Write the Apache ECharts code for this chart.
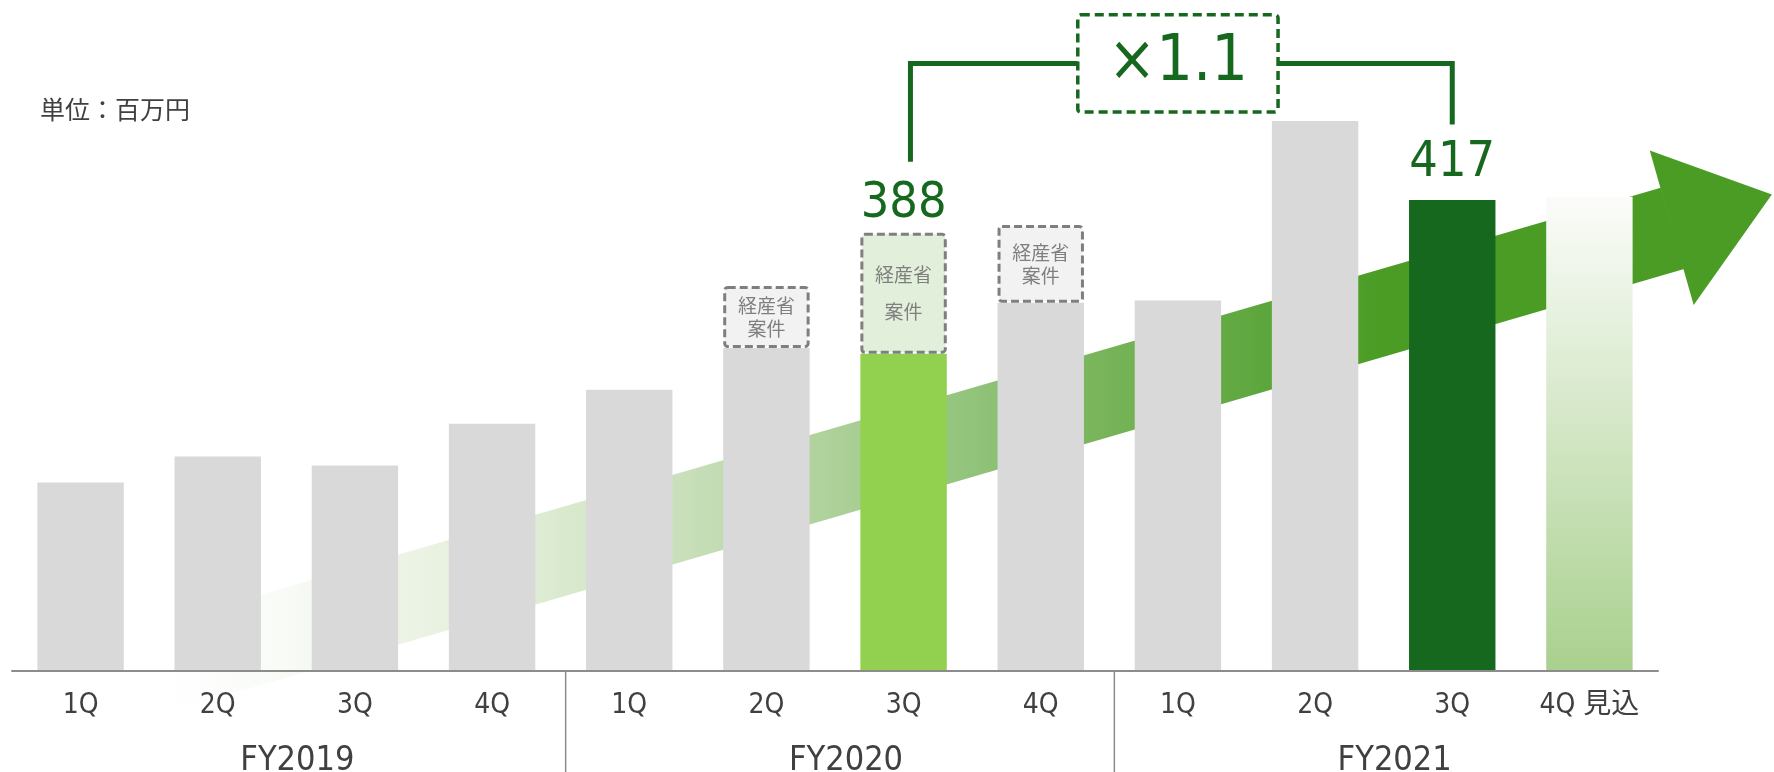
<!DOCTYPE html>
<html>
<head>
<meta charset="utf-8">
<script src="https://cdn.jsdelivr.net/npm/echarts@6/dist/echarts.min.js"></script>
<style>
  html, body { margin: 0; padding: 0; background: #ffffff; }
  #chart { width: 1774px; height: 772px; }
</style>
</head>
<body>
<div id="chart"></div>
<script>
// Quarterly sales, unit: million yen
const quarters = ['1Q', '2Q', '3Q', '4Q', '1Q', '2Q', '3Q', '4Q', '1Q', '2Q', '3Q', '4Q 見込'];
const fiscalYears = ['FY2019', 'FY2020', 'FY2021'];
const baseSales = [167, 190, 182, 219, 249, 286, 281, 326, 328, 487, 417, 420];
const metiSales = [null, null, null, null, null, 55, 107, 69, null, null, null, null];
const compareFrom = 6;   // FY2020 3Q
const compareTo = 10;    // FY2021 3Q
const forecastIndex = 11;
const unitLabel = '単位：百万円';
const metiLabel = '経産省\n案件';

const totals = baseSales.map((v, i) => v + (metiSales[i] || 0));
const growth = '×' + (totals[compareTo] / totals[compareFrom]).toFixed(1);

const LATIN = "'DejaVu Sans Condensed', 'Noto Sans CJK JP', sans-serif";
const CJK = "'Noto Sans CJK JP', sans-serif";
const TEXT = '#404040';
const DARK_GREEN = '#17681f';

const chart = echarts.init(document.getElementById('chart'), null, { renderer: 'canvas' });

// fractional category position -> pixel, using the category axis scale
function makePx(api) {
  return function (ix, v) {
    const a = api.coord([0, v]);
    const b = api.coord([1, v]);
    return [a[0] + (b[0] - a[0]) * ix, a[1]];
  };
}

const baseData = baseSales.map((v, i) => {
  let color = '#d9d9d9';
  if (i === compareFrom) color = '#92d050';
  if (i === compareTo) color = DARK_GREEN;
  if (i === forecastIndex) {
    color = new echarts.graphic.LinearGradient(0, 0, 0, 1, [
      { offset: 0, color: '#fbfcfa' },
      { offset: 1, color: '#a9d08e' }
    ]);
  }
  return { value: v, itemStyle: { color: color } };
});

const metiData = metiSales.map((v, i) => {
  if (v == null) return null;
  const hl = i === compareFrom;
  return {
    value: v,
    itemStyle: { color: hl ? '#e2efda' : '#f2f2f2' },
    label: { lineHeight: hl ? 37 : 23 }
  };
});

const option = {
  animation: false,
  backgroundColor: '#ffffff',
  title: {
    text: unitLabel,
    left: 35,
    top: 92,
    textStyle: { fontFamily: CJK, fontSize: 25, fontWeight: 'normal', color: TEXT }
  },
  grid: { left: 12, right: 116, top: 16, bottom: 101, containLabel: false, outerBoundsMode: 'none' },
  xAxis: [
    {
      type: 'category',
      data: quarters,
      z: 5,
      axisLine: { lineStyle: { color: '#8c8c8c', width: 2 } },
      axisTick: { show: false },
      axisLabel: { margin: 21, fontSize: 28, color: TEXT, fontFamily: LATIN }
    },
    {
      type: 'category',
      data: fiscalYears,
      position: 'bottom',
      offset: 0,
      z: 5,
      axisLine: { show: false },
      axisTick: { show: false },
      axisLabel: { margin: 73, fontSize: 34, color: TEXT, fontFamily: LATIN, padding: [0, 0, 0, 22] }
    }
  ],
  yAxis: {
    type: 'value',
    min: 0,
    max: 580,
    show: false,
    splitLine: { show: false }
  },
  series: [
    {
      // growth arrow behind the bars
      type: 'custom',
      name: 'trend',
      z: 1,
      silent: true,
      clip: false,
      data: [[0, 0]],
      renderItem: function (params, api) {
        const px = makePx(api);
        const band = [[0.25, 30], [11.52, 428], [11.69, 356], [0.25, -50]].map(p => px(p[0], p[1]));
        const head = [[11.44, 461], [12.33, 422], [11.76, 324]].map(p => px(p[0], p[1]));
        const gx0 = px(0.25, 0)[0];
        const gx1 = px(9.5, 0)[0];
        return {
          type: 'group',
          children: [
            {
              type: 'polygon',
              shape: { points: band },
              style: {
                fill: new echarts.graphic.LinearGradient(gx0, 0, gx1, 0, [
                  { offset: 0, color: 'rgba(255,255,255,0)' },
                  { offset: 0.14, color: '#f7faf5' },
                  { offset: 0.24, color: '#ebf3e4' },
                  { offset: 0.34, color: '#dcebd2' },
                  { offset: 0.45, color: '#c8dfba' },
                  { offset: 0.56, color: '#afd19b' },
                  { offset: 0.67, color: '#93c47d' },
                  { offset: 0.77, color: '#7ab55c' },
                  { offset: 0.88, color: '#62a943' },
                  { offset: 1, color: '#4a9c24' }
                ], true)
              }
            },
            { type: 'polygon', shape: { points: head }, style: { fill: '#4a9c24' } }
          ]
        };
      }
    },
    {
      type: 'bar',
      name: 'sales',
      stack: 'total',
      z: 2,
      barCategoryGap: '37%',
      data: baseData
    },
    {
      type: 'bar',
      name: 'meti',
      stack: 'total',
      z: 2,
      data: metiData,
      itemStyle: {
        borderColor: '#7f7f7f',
        borderWidth: 3,
        borderType: [8, 4],
        borderRadius: 3
      },
      label: {
        show: true,
        position: 'inside',
        formatter: metiLabel,
        fontFamily: CJK,
        fontSize: 19,
        color: '#7f7f7f'
      }
    },
    {
      // value labels above the compared quarters
      type: 'custom',
      name: 'values',
      z: 4,
      silent: true,
      clip: false,
      data: [[compareFrom, totals[compareFrom]], [compareTo, totals[compareTo]]],
      renderItem: function (params, api) {
        const idx = api.value(0);
        const p = api.coord([idx, api.value(1)]);
        const gap = idx === compareFrom ? 4 : 12;
        return {
          type: 'text',
          x: p[0],
          y: p[1] - gap,
          style: {
            text: String(api.value(1)),
            align: 'center',
            verticalAlign: 'bottom',
            fontFamily: LATIN,
            fontSize: 50,
            fill: DARK_GREEN
          }
        };
      }
    },
    {
      // bracket comparing the two quarters
      type: 'custom',
      name: 'growth',
      z: 4,
      silent: true,
      clip: false,
      data: [[compareFrom, compareTo]],
      renderItem: function (params, api) {
        const px = makePx(api);
        const lineV = 538;
        const mid = (compareFrom + compareTo) / 2;
        const boxL = px(mid - 0.73, 581);
        const boxR = px(mid + 0.73, 495);
        const leftX = compareFrom + 0.05;
        const stroke = { stroke: DARK_GREEN, lineWidth: 5, fill: null, lineJoin: 'miter' };
        return {
          type: 'group',
          children: [
            {
              type: 'polyline',
              shape: { points: [px(leftX, totals[compareFrom] + 63), px(leftX, lineV), [boxL[0], px(0, lineV)[1]]] },
              style: stroke
            },
            {
              type: 'polyline',
              shape: { points: [[boxR[0], px(0, lineV)[1]], px(compareTo, lineV), px(compareTo, totals[compareTo] + 67)] },
              style: stroke
            },
            {
              type: 'rect',
              shape: { x: boxL[0], y: boxL[1], width: boxR[0] - boxL[0], height: boxR[1] - boxL[1], r: 3 },
              style: { fill: '#ffffff', stroke: DARK_GREEN, lineWidth: 3.5, lineDash: [9, 5] }
            },
            {
              type: 'text',
              x: px(mid, 0)[0],
              y: (boxL[1] + boxR[1]) / 2,
              style: {
                text: growth,
                align: 'center',
                verticalAlign: 'middle',
                fontFamily: LATIN,
                fontSize: 64,
                fill: DARK_GREEN
              }
            }
          ]
        };
      }
    },
    {
      // fiscal-year separators below the axis
      type: 'custom',
      name: 'separators',
      z: 5,
      silent: true,
      clip: false,
      data: [[3.5, 0], [7.5, 0]],
      renderItem: function (params, api) {
        const px = makePx(api);
        const p = px(api.value(0), 0);
        const x = p[0] + 5;
        return {
          type: 'line',
          shape: { x1: x, y1: p[1], x2: x, y2: api.getHeight() },
          style: { stroke: '#8c8c8c', lineWidth: 1.5 }
        };
      }
    }
  ]
};

chart.setOption(option);
</script>
</body>
</html>
